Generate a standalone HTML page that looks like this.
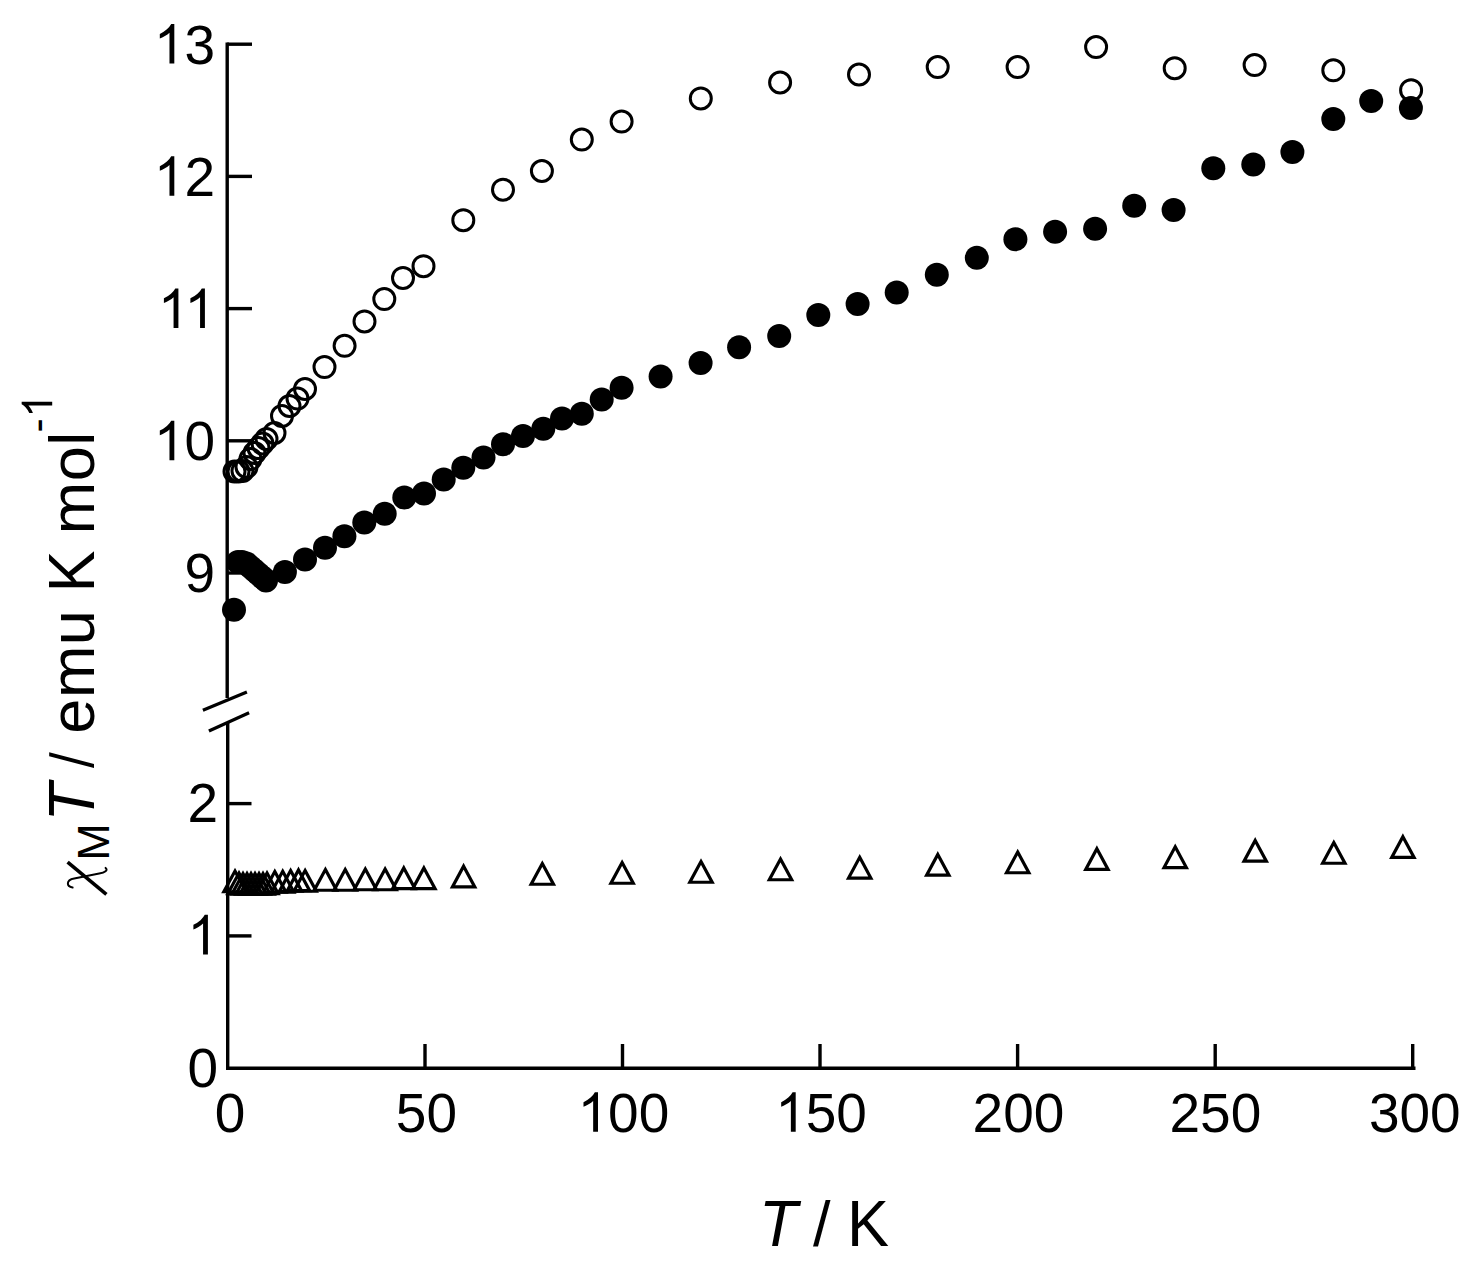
<!DOCTYPE html>
<html><head><meta charset="utf-8"><style>
html,body{margin:0;padding:0;background:#fff;}
svg{display:block;}
text{font-family:"Liberation Sans",sans-serif;}
</style></head><body>
<svg width="1474" height="1272" viewBox="0 0 1474 1272">
<rect width="1474" height="1272" fill="#fff"/>
<g fill="none" stroke="#000" stroke-width="3.4">
<path d="M227.2 42.5V698"/>
<path d="M227.7 723V1069.9"/>
<path d="M226 1068.2H1415.5"/>
<path d="M227.2 44.2H252"/>
<path d="M227.2 176.4H252"/>
<path d="M227.2 308.6H252"/>
<path d="M227.2 440.8H252"/>
<path d="M227.2 573.0H252"/>
<path d="M227.8 803.6H251.5"/>
<path d="M227.8 935.9H251.5"/>
<path d="M425.0 1044V1068"/>
<path d="M622.5 1044V1068"/>
<path d="M820.0 1044V1068"/>
<path d="M1017.6 1044V1068"/>
<path d="M1215.2 1044V1068"/>
<path d="M1412.7 1044V1068"/>
<path d="M202.9 710.3L246.9 692" stroke-width="3.3"/>
<path d="M208.9 731L249.1 712.8" stroke-width="3.3"/>
</g>
<g fill="none" stroke="#000" stroke-width="3.2" stroke-linejoin="miter">
<path transform="translate(235 880.5)" d="M0 -9.48L11.17 11.25L-11.17 11.25Z"/>
<path transform="translate(239 882.5)" d="M0 -9.48L11.17 11.25L-11.17 11.25Z"/>
<path transform="translate(243 883)" d="M0 -9.48L11.17 11.25L-11.17 11.25Z"/>
<path transform="translate(247 883)" d="M0 -9.48L11.17 11.25L-11.17 11.25Z"/>
<path transform="translate(251 883)" d="M0 -9.48L11.17 11.25L-11.17 11.25Z"/>
<path transform="translate(255 883)" d="M0 -9.48L11.17 11.25L-11.17 11.25Z"/>
<path transform="translate(259 883)" d="M0 -9.48L11.17 11.25L-11.17 11.25Z"/>
<path transform="translate(263 883)" d="M0 -9.48L11.17 11.25L-11.17 11.25Z"/>
<path transform="translate(267 882.5)" d="M0 -9.48L11.17 11.25L-11.17 11.25Z"/>
<path transform="translate(274.8 881)" d="M0 -9.48L11.17 11.25L-11.17 11.25Z"/>
<path transform="translate(282.7 880.8)" d="M0 -9.48L11.17 11.25L-11.17 11.25Z"/>
<path transform="translate(290.6 880)" d="M0 -9.48L11.17 11.25L-11.17 11.25Z"/>
<path transform="translate(298.5 879.4)" d="M0 -9.48L11.17 11.25L-11.17 11.25Z"/>
<path transform="translate(305.1 880)" d="M0 -9.48L11.17 11.25L-11.17 11.25Z"/>
<path transform="translate(325.4 879)" d="M0 -9.48L11.17 11.25L-11.17 11.25Z"/>
<path transform="translate(345.2 879)" d="M0 -9.48L11.17 11.25L-11.17 11.25Z"/>
<path transform="translate(365.3 878.5)" d="M0 -9.48L11.17 11.25L-11.17 11.25Z"/>
<path transform="translate(385.1 878.5)" d="M0 -9.48L11.17 11.25L-11.17 11.25Z"/>
<path transform="translate(403.8 877.4)" d="M0 -9.48L11.17 11.25L-11.17 11.25Z"/>
<path transform="translate(423.9 877.4)" d="M0 -9.48L11.17 11.25L-11.17 11.25Z"/>
<path transform="translate(463.6 875.7)" d="M0 -9.48L11.17 11.25L-11.17 11.25Z"/>
<path transform="translate(542.3 873)" d="M0 -9.48L11.17 11.25L-11.17 11.25Z"/>
<path transform="translate(622.1 872)" d="M0 -9.48L11.17 11.25L-11.17 11.25Z"/>
<path transform="translate(701.0 871.0)" d="M0 -9.48L11.17 11.25L-11.17 11.25Z"/>
<path transform="translate(780.5 868.5)" d="M0 -9.48L11.17 11.25L-11.17 11.25Z"/>
<path transform="translate(859.7 866.8)" d="M0 -9.48L11.17 11.25L-11.17 11.25Z"/>
<path transform="translate(937.8 863.9)" d="M0 -9.48L11.17 11.25L-11.17 11.25Z"/>
<path transform="translate(1017.7 861.5)" d="M0 -9.48L11.17 11.25L-11.17 11.25Z"/>
<path transform="translate(1096.9 858.2)" d="M0 -9.48L11.17 11.25L-11.17 11.25Z"/>
<path transform="translate(1175.2 856.3)" d="M0 -9.48L11.17 11.25L-11.17 11.25Z"/>
<path transform="translate(1255.2 849.9)" d="M0 -9.48L11.17 11.25L-11.17 11.25Z"/>
<path transform="translate(1333.8 852.0)" d="M0 -9.48L11.17 11.25L-11.17 11.25Z"/>
<path transform="translate(1402.9 846.2)" d="M0 -9.48L11.17 11.25L-11.17 11.25Z"/>
</g>
<g fill="none" stroke="#000" stroke-width="3">
<circle cx="234.5" cy="471.5" r="10.5"/>
<circle cx="238.5" cy="471.5" r="10.5"/>
<circle cx="242.5" cy="471" r="10.5"/>
<circle cx="246.5" cy="467" r="10.5"/>
<circle cx="250.5" cy="459" r="10.5"/>
<circle cx="254.5" cy="453" r="10.5"/>
<circle cx="258.5" cy="448" r="10.5"/>
<circle cx="262.5" cy="443.5" r="10.5"/>
<circle cx="266.5" cy="439" r="10.5"/>
<circle cx="274.5" cy="433" r="10.5"/>
<circle cx="282" cy="416" r="10.5"/>
<circle cx="289.5" cy="406" r="10.5"/>
<circle cx="297.5" cy="398.6" r="10.5"/>
<circle cx="305" cy="389" r="10.5"/>
<circle cx="324.5" cy="367.1" r="10.5"/>
<circle cx="344.6" cy="345.8" r="10.5"/>
<circle cx="364.5" cy="321.4" r="10.5"/>
<circle cx="384.3" cy="299.1" r="10.5"/>
<circle cx="403" cy="277.9" r="10.5"/>
<circle cx="423.5" cy="266.2" r="10.5"/>
<circle cx="463.3" cy="220.2" r="10.5"/>
<circle cx="503" cy="189.7" r="10.5"/>
<circle cx="541.9" cy="171" r="10.5"/>
<circle cx="581.8" cy="139.6" r="10.5"/>
<circle cx="621.6" cy="121.6" r="10.5"/>
<circle cx="700.8" cy="98.4" r="10.5"/>
<circle cx="780.1" cy="82.5" r="10.5"/>
<circle cx="859" cy="74.5" r="10.5"/>
<circle cx="937.7" cy="67.1" r="10.5"/>
<circle cx="1017.6" cy="67.1" r="10.5"/>
<circle cx="1096.1" cy="47.1" r="10.5"/>
<circle cx="1174.7" cy="68.2" r="10.5"/>
<circle cx="1254.6" cy="65.1" r="10.5"/>
<circle cx="1333.3" cy="70.3" r="10.5"/>
<circle cx="1411.1" cy="90.2" r="10.5"/>
</g>
<g fill="#000">
<circle cx="234" cy="609.8" r="12.0"/>
<circle cx="238" cy="562" r="12.0"/>
<circle cx="242" cy="562" r="12.0"/>
<circle cx="246.5" cy="563.5" r="12.0"/>
<circle cx="250.5" cy="567" r="12.0"/>
<circle cx="254.5" cy="570.5" r="12.0"/>
<circle cx="258.5" cy="574" r="12.0"/>
<circle cx="262.5" cy="577.5" r="12.0"/>
<circle cx="266" cy="580.5" r="12.0"/>
<circle cx="284.9" cy="572.1" r="12.0"/>
<circle cx="305" cy="559.6" r="12.0"/>
<circle cx="325" cy="547.7" r="12.0"/>
<circle cx="344.4" cy="536.2" r="12.0"/>
<circle cx="364.3" cy="522.6" r="12.0"/>
<circle cx="384.7" cy="513.8" r="12.0"/>
<circle cx="404.3" cy="497.5" r="12.0"/>
<circle cx="424" cy="493.4" r="12.0"/>
<circle cx="443.7" cy="479.6" r="12.0"/>
<circle cx="463.3" cy="467.7" r="12.0"/>
<circle cx="483.5" cy="457.5" r="12.0"/>
<circle cx="503" cy="444.3" r="12.0"/>
<circle cx="523" cy="436.1" r="12.0"/>
<circle cx="543.3" cy="428.7" r="12.0"/>
<circle cx="562" cy="418.5" r="12.0"/>
<circle cx="581.8" cy="413.8" r="12.0"/>
<circle cx="601.7" cy="399.5" r="12.0"/>
<circle cx="621.6" cy="387.8" r="12.0"/>
<circle cx="660.6" cy="376.4" r="12.0"/>
<circle cx="700.6" cy="363.1" r="12.0"/>
<circle cx="739.1" cy="347.2" r="12.0"/>
<circle cx="779.2" cy="335.9" r="12.0"/>
<circle cx="818.3" cy="314.9" r="12.0"/>
<circle cx="857.6" cy="304" r="12.0"/>
<circle cx="896.7" cy="292.5" r="12.0"/>
<circle cx="936.8" cy="274.7" r="12.0"/>
<circle cx="976.8" cy="257.8" r="12.0"/>
<circle cx="1015.4" cy="239.3" r="12.0"/>
<circle cx="1055.1" cy="231.8" r="12.0"/>
<circle cx="1095.1" cy="228.8" r="12.0"/>
<circle cx="1134.2" cy="205.8" r="12.0"/>
<circle cx="1173.6" cy="210" r="12.0"/>
<circle cx="1213.3" cy="168.2" r="12.0"/>
<circle cx="1253.3" cy="164.6" r="12.0"/>
<circle cx="1292.4" cy="152.1" r="12.0"/>
<circle cx="1333.3" cy="119" r="12.0"/>
<circle cx="1371.2" cy="101" r="12.0"/>
<circle cx="1410.9" cy="107.9" r="12.0"/>
</g>
<g font-family="Liberation Sans" fill="#000">
<path transform="translate(153.82 63.6) scale(0.02686 -0.02686)" d="M763 0L583 0L583 1147Q518 1085 412.5 1023Q307 961 223 930L223 1104Q374 1175 487 1276Q600 1377 647 1472L763 1472Z"/>
<text transform="translate(184.41 63.6) scale(1 1.025)" font-size="55">3</text>
<path transform="translate(153.82 195.8) scale(0.02686 -0.02686)" d="M763 0L583 0L583 1147Q518 1085 412.5 1023Q307 961 223 930L223 1104Q374 1175 487 1276Q600 1377 647 1472L763 1472Z"/>
<text transform="translate(184.41 195.8) scale(1 1.025)" font-size="55">2</text>
<path transform="translate(157.91 328.0) scale(0.02686 -0.02686)" d="M763 0L583 0L583 1147Q518 1085 412.5 1023Q307 961 223 930L223 1104Q374 1175 487 1276Q600 1377 647 1472L763 1472Z"/>
<path transform="translate(184.41 328.0) scale(0.02686 -0.02686)" d="M763 0L583 0L583 1147Q518 1085 412.5 1023Q307 961 223 930L223 1104Q374 1175 487 1276Q600 1377 647 1472L763 1472Z"/>
<path transform="translate(153.82 460.2) scale(0.02686 -0.02686)" d="M763 0L583 0L583 1147Q518 1085 412.5 1023Q307 961 223 930L223 1104Q374 1175 487 1276Q600 1377 647 1472L763 1472Z"/>
<text transform="translate(184.41 460.2) scale(1 1.025)" font-size="55">0</text>
<text transform="translate(184.41 592.4) scale(1 1.025)" font-size="55">9</text>
<text transform="translate(187.41 822.1) scale(1 1.025)" font-size="55">2</text>
<path transform="translate(187.41 954.4) scale(0.02686 -0.02686)" d="M763 0L583 0L583 1147Q518 1085 412.5 1023Q307 961 223 930L223 1104Q374 1175 487 1276Q600 1377 647 1472L763 1472Z"/>
<text transform="translate(187.41 1086.7) scale(1 1.025)" font-size="55">0</text>
<text transform="translate(214.76 1131.8) scale(1 1.025)" font-size="55">0</text>
<text transform="translate(395.83 1131.8) scale(1 1.025)" font-size="55">5</text>
<text transform="translate(426.42 1131.8) scale(1 1.025)" font-size="55">0</text>
<path transform="translate(577.50 1131.8) scale(0.02686 -0.02686)" d="M763 0L583 0L583 1147Q518 1085 412.5 1023Q307 961 223 930L223 1104Q374 1175 487 1276Q600 1377 647 1472L763 1472Z"/>
<text transform="translate(608.09 1131.8) scale(1 1.025)" font-size="55">0</text>
<text transform="translate(638.67 1131.8) scale(1 1.025)" font-size="55">0</text>
<path transform="translate(775.20 1131.8) scale(0.02686 -0.02686)" d="M763 0L583 0L583 1147Q518 1085 412.5 1023Q307 961 223 930L223 1104Q374 1175 487 1276Q600 1377 647 1472L763 1472Z"/>
<text transform="translate(805.79 1131.8) scale(1 1.025)" font-size="55">5</text>
<text transform="translate(836.37 1131.8) scale(1 1.025)" font-size="55">0</text>
<text transform="translate(972.56 1131.8) scale(1 1.025)" font-size="55">2</text>
<text transform="translate(1003.15 1131.8) scale(1 1.025)" font-size="55">0</text>
<text transform="translate(1033.74 1131.8) scale(1 1.025)" font-size="55">0</text>
<text transform="translate(1169.51 1131.8) scale(1 1.025)" font-size="55">2</text>
<text transform="translate(1200.10 1131.8) scale(1 1.025)" font-size="55">5</text>
<text transform="translate(1230.69 1131.8) scale(1 1.025)" font-size="55">0</text>
<text transform="translate(1368.89 1131.8) scale(1 1.025)" font-size="55">3</text>
<text transform="translate(1399.48 1131.8) scale(1 1.025)" font-size="55">0</text>
<text transform="translate(1430.07 1131.8) scale(1 1.025)" font-size="55">0</text>
</g>
<g fill="#000">
<text transform="translate(759.07 1246) scale(1 1.04)" font-family="Liberation Sans" font-style="italic" font-size="63">T</text>
<text transform="translate(813.10 1246) scale(1 1.0)" font-family="Liberation Sans" font-style="normal" font-size="63">/</text>
<text transform="translate(847.11 1246) scale(1 1.04)" font-family="Liberation Sans" font-style="normal" font-size="63">K</text>
</g>
<g fill="#000" transform="translate(93.8 900) rotate(-90)">
<text transform="translate(39.26 15.6) scale(1 1.0)" font-family="Liberation Sans" font-style="normal" font-size="45">M</text>
<text transform="translate(78.57 0) scale(1 1.04)" font-family="Liberation Sans" font-style="italic" font-size="63">T</text>
<text transform="translate(166.34 0) scale(1 1.0)" font-family="Liberation Sans" font-style="normal" font-size="63">e</text>
<text transform="translate(201.89 0) scale(1 1.0)" font-family="Liberation Sans" font-style="normal" font-size="63">m</text>
<text transform="translate(254.73 0) scale(1 1.0)" font-family="Liberation Sans" font-style="normal" font-size="63">u</text>
<text transform="translate(307.51 0) scale(1 1.04)" font-family="Liberation Sans" font-style="normal" font-size="63">K</text>
<text transform="translate(365.74 0) scale(1 1.0)" font-family="Liberation Sans" font-style="normal" font-size="63">m</text>
<text transform="translate(418.63 0) scale(1 1.0)" font-family="Liberation Sans" font-style="normal" font-size="63">o</text>
<text transform="translate(454.19 0) scale(1 1.0)" font-family="Liberation Sans" font-style="normal" font-size="63">l</text>
<text transform="translate(467.47 -41.6) scale(1 1.0)" font-family="Liberation Sans" font-style="normal" font-size="42.5">-</text>
<path transform="translate(482.37 -41.6) scale(0.02075 -0.02075)" d="M763 0L583 0L583 1147Q518 1085 412.5 1023Q307 961 223 930L223 1104Q374 1175 487 1276Q600 1377 647 1472L763 1472Z"/>
</g>
<path d="M49.2 752.3L49.2 756.3L94 768L94 764Z" fill="#000"/>
<path d="M67.6 862.2L106.4 894.4" stroke="#000" stroke-width="3.6" fill="none"/>
<path d="M72.6 887.6C66.5 886.6 65.6 880.2 74.2 878.6L99.2 873.6C104.8 872.4 108.4 870.2 105.6 867.9" stroke="#000" stroke-width="2" fill="none" stroke-linecap="round"/>
</svg>
</body></html>
